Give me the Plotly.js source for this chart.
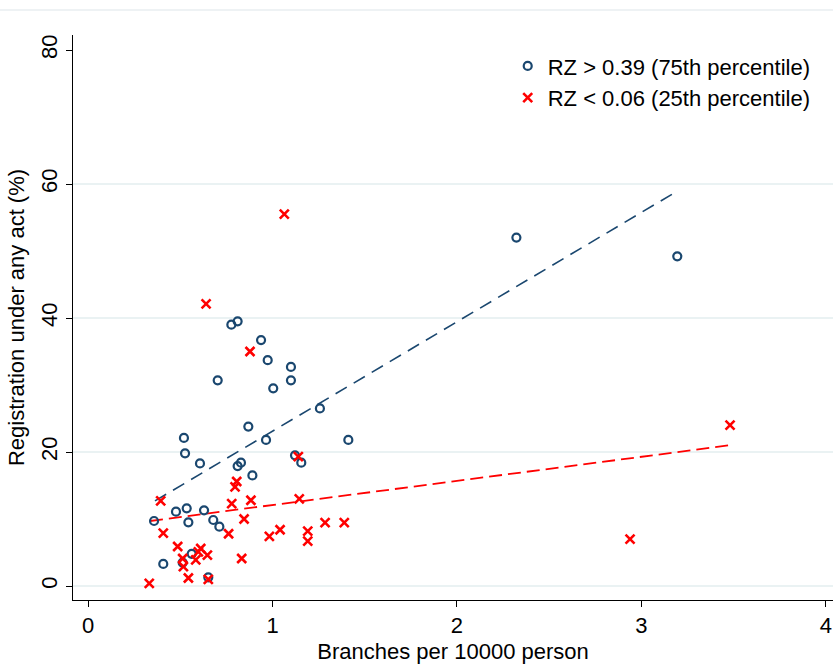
<!DOCTYPE html>
<html>
<head>
<meta charset="utf-8">
<script src="https://cdn.plot.ly/plotly-3.0.1.min.js"></script>
<style>html,body{margin:0;padding:0;background:#fff;}#chart{width:833px;height:664px;}</style>
</head>
<body>
<div id="chart"></div>
<script>
// High RZ group (RZ > 0.39, 75th percentile)
const highX = [0.777, 0.811, 0.938, 0.974, 1.100, 1.100, 0.703, 1.004, 1.257, 0.869,
               0.520, 0.965, 1.411, 0.526, 1.122, 1.156, 0.607, 0.829, 0.811, 0.891,
               0.477, 0.535, 0.629, 0.358, 0.544, 0.679, 0.712, 0.562, 0.408, 0.652,
               0.513, 2.322, 3.194];
const highY = [39.0, 39.5, 36.7, 33.7, 32.7, 30.7, 30.7, 29.5, 26.5, 23.8,
               22.1, 21.8, 21.8, 19.8, 19.5, 18.4, 18.3, 18.4, 17.9, 16.5,
               11.1, 11.6, 11.3, 9.7, 9.5, 9.85, 8.85, 4.8, 3.3, 1.3,
               3.5, 52.0, 49.2];
// Low RZ group (RZ < 0.06, 25th percentile)
const lowX = [0.640, 0.878, 1.064, 1.140, 0.806, 0.797, 0.883, 0.779, 1.145, 0.394,
              0.846, 0.408, 0.762, 0.983, 1.041, 1.191, 1.191, 1.285, 1.389, 0.486,
              0.598, 0.611, 0.647, 0.513, 0.584, 0.517, 0.833, 0.544, 0.652, 0.332,
              2.938, 3.480];
const lowY = [42.1, 35.0, 55.5, 19.3, 15.6, 14.8, 12.8, 12.3, 13.0, 12.7,
              10.0, 7.9, 7.8, 7.4, 8.4, 8.2, 6.7, 9.45, 9.45, 5.9,
              5.1, 5.6, 4.6, 4.1, 3.9, 2.9, 4.1, 1.2, 1.0, 0.4,
              7.0, 24.0];
// Linear fit endpoints
const fitHighX = [0.363, 3.198];
const fitHighY = [12.7, 59.0];
const fitLowX = [0.336, 3.476];
const fitLowY = [9.7, 21.0];

const seriesNames = ["RZ > 0.39 (75th percentile)", "RZ < 0.06 (25th percentile)"];
const yTicks = [0, 20, 40, 60, 80];
const xTicks = [0, 1, 2, 3, 4];

const blue = "#1a476f";
const red = "#ff0000";
const font = "Liberation Sans, Arial, sans-serif";

const traces = [
  {x: fitHighX, y: fitHighY, mode: "lines", showlegend: false, hoverinfo: "skip",
   line: {color: blue, width: 1.6, dash: "13px,8px"}},
  {x: fitLowX, y: fitLowY, mode: "lines", showlegend: false, hoverinfo: "skip",
   line: {color: red, width: 1.8, dash: "13px,6px"}},
  {x: highX, y: highY, mode: "markers", name: seriesNames[0],
   marker: {symbol: "circle-open", size: 8, color: blue, line: {color: blue, width: 2.2}}},
  {x: lowX, y: lowY, mode: "markers", name: seriesNames[1],
   marker: {symbol: "x-thin-open", size: 9, color: red, line: {color: red, width: 2.6}}}
];

const gridShapes = yTicks.filter(v => v < 80).map(v => ({
  type: "line", xref: "paper", yref: "y", x0: 0, x1: 1, y0: v, y1: v,
  line: {color: "#eaf2f3", width: 2}, layer: "below"
}));
gridShapes.push({
  type: "line", xref: "paper", yref: "paper", x0: -73/760, x1: 1, y0: 1 + 25/565, y1: 1 + 25/565,
  line: {color: "#e8eef0", width: 1.5}
});

const layout = {
  width: 833, height: 664,
  margin: {l: 73, r: 0, t: 35, b: 64, pad: 0},
  paper_bgcolor: "#ffffff", plot_bgcolor: "#ffffff",
  font: {family: font, size: 22, color: "#000"},
  showlegend: true,
  legend: {x: 0.572, y: 0.982, xanchor: "left", yanchor: "top", bgcolor: "rgba(0,0,0,0)",
           font: {family: font, size: 22, color: "#000"}, tracegroupgap: 0, itemwidth: 30},
  xaxis: {
    range: [-0.0813, 4.038], tickvals: xTicks, ticktext: xTicks.map(String),
    showgrid: false, zeroline: false, showline: true, linecolor: "#000", linewidth: 1,
    ticks: "outside", ticklen: 6, tickcolor: "#000", tickwidth: 1,
    tickfont: {family: font, size: 22},
    title: {text: "Branches per 10000 person", font: {family: font, size: 22}, standoff: 8}
  },
  yaxis: {
    range: [-2.09, 82.24], tickvals: yTicks, ticktext: yTicks.map(String),
    showgrid: false, zeroline: false, showline: true, linecolor: "#000", linewidth: 1,
    ticks: "outside", ticklen: 6, tickcolor: "#000", tickwidth: 1, tickangle: -90,
    tickfont: {family: font, size: 22},
    title: {text: "Registration under any act (%)", font: {family: font, size: 22}, standoff: 6}
  },
  shapes: gridShapes
};

Plotly.newPlot("chart", traces, layout, {displayModeBar: false, staticPlot: true});
</script>
</body>
</html>
